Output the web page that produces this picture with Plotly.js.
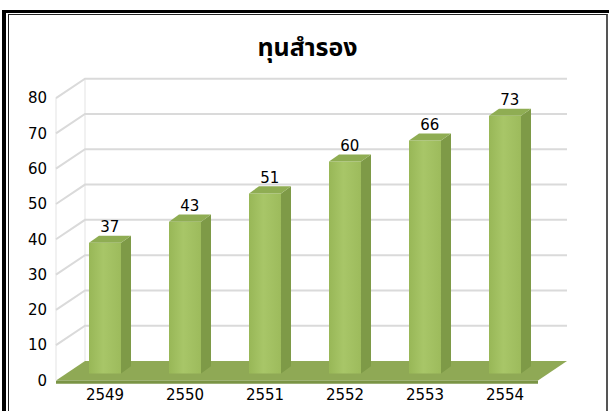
<!DOCTYPE html>
<html><head><meta charset="utf-8">
<script src="https://cdn.plot.ly/plotly-3.0.1.min.js"></script>
<style>
html,body{margin:0;padding:0;background:#fff;}
#wrap{position:relative;width:609px;height:411px;overflow:hidden;background:#fff;}
#chart{position:absolute;left:0;top:0;width:609px;height:411px;}
.b1{position:absolute;left:2px;top:10px;width:620px;height:420px;border-top:3px solid #000;border-left:4px solid #000;pointer-events:none;}
.b2{position:absolute;left:8px;top:14px;width:597px;height:420px;border-top:1px solid #222;border-left:1px solid #222;border-right:2px solid #555;pointer-events:none;}
</style></head>
<body><div id="wrap"><div id="chart"></div><div class="b1"></div><div class="b2"></div></div>
<script>
const years = ["2549","2550","2551","2552","2553","2554"];
const values = [37, 43, 51, 60, 66, 73];
const yTicks = [0,10,20,30,40,50,60,70,80];

// projection parameters (data units)
const DX = 0.3625, DY = 5.5;       // floor depth offset
const bdx = 0.125, bdy = 2.0;      // bar depth offset
const hw = 0.2;                    // half bar width
const base = 2.0;                  // bar bottom offset (bars sit inside floor)
const xL = -0.6125, xR = 5.4125;   // floor front left / right

const xs = years.map((_, i) => i);
const traces = [];
const skip = {hoverinfo:'skip', showlegend:false};

// floor
traces.push(Object.assign({x:[xL, xR, xR+DX, xL+DX, xL], y:[0,0,DY,DY,0], fill:'toself', mode:'lines',
  line:{width:0}, fillcolor:'#8fa955'}, skip));
traces.push(Object.assign({x:[xL, xR, xR, xL, xL], y:[-0.9,-0.9,0,0,-0.9], fill:'toself', mode:'lines',
  line:{width:0}, fillcolor:'#7a9445'}, skip));

// gridlines (front edge diagonal + back wall)
const gx = [], gy = [];
yTicks.filter(v => v > 0).forEach(v => {
  gx.push(xL, xL+DX, xR+DX, null); gy.push(v, v+DY, v+DY, null);
});
traces.push(Object.assign({x:[xL, xL, null, xL+DX, xL+DX], y:[0, 80, null, DY, 80+DY], mode:'lines',
  line:{color:'#ececec', width:1.5}}, skip));
traces.push(Object.assign({x:gx, y:gy, mode:'lines', line:{color:'#dadada', width:2}}, skip));

// bars: front, side, top faces
values.forEach((v, i) => {
  const r = i + hw, l = i - hw, top = base + v;
  traces.push(Object.assign({x:[l, r, r, l, l], y:[base, base, top, top, base], fill:'toself', mode:'lines',
    line:{width:0}, fillcolor:'#a2c062',
    fillgradient:{type:'horizontal', colorscale:[[0,'#98b757'],[0.45,'#a8c668'],[1,'#9dbb5c']]}}, skip));
  traces.push(Object.assign({x:[r, r, r+bdx, r+bdx, r], y:[base, top, top+bdy, base+bdy, base], fill:'toself', mode:'lines',
    line:{width:0}, fillcolor:'#7e9a47'}, skip));
  traces.push(Object.assign({x:[l, r, r+bdx, l+bdx, l], y:[top, top, top+bdy, top+bdy, top], fill:'toself', mode:'lines',
    line:{width:0}, fillcolor:'#8fad53'}, skip));
});

// value labels
traces.push(Object.assign({x:xs.map(i => i + 0.06), y:values.map(v => v + base + bdy), mode:'text',
  text:values.map(String), textposition:'top center',
  textfont:{family:'DejaVu Sans, Verdana, sans-serif', size:15, color:'#000'},
  cliponaxis:false}, skip));

const layout = {
  width:609, height:411,
  margin:{l:50, r:31, t:69, b:27},
  paper_bgcolor:'rgba(0,0,0,0)', plot_bgcolor:'rgba(0,0,0,0)',
  title:{text:'<b>ทุนสำรอง</b>', x:0.505, xanchor:'center', y:0.885, yanchor:'middle',
    font:{family:'Noto Sans Thai, Tahoma, Noto Sans, sans-serif', size:25, color:'#000'}},
  xaxis:{range:[-0.6875, 5.9125], tickvals:xs, ticktext:years, showgrid:false, zeroline:false,
    showline:false, ticks:'', fixedrange:true,
    tickfont:{family:'DejaVu Sans, Verdana, sans-serif', size:15, color:'#000'}},
  yaxis:{range:[-1, 88.24], tickvals:yTicks, ticktext:yTicks.map(String), showgrid:false,
    zeroline:false, showline:false, ticks:'', fixedrange:true, ticklabelstandoff:2,
    tickfont:{family:'DejaVu Sans, Verdana, sans-serif', size:15, color:'#000'}},
  showlegend:false
};
Plotly.newPlot('chart', traces, layout, {staticPlot:true, displayModeBar:false});
</script></body></html>
